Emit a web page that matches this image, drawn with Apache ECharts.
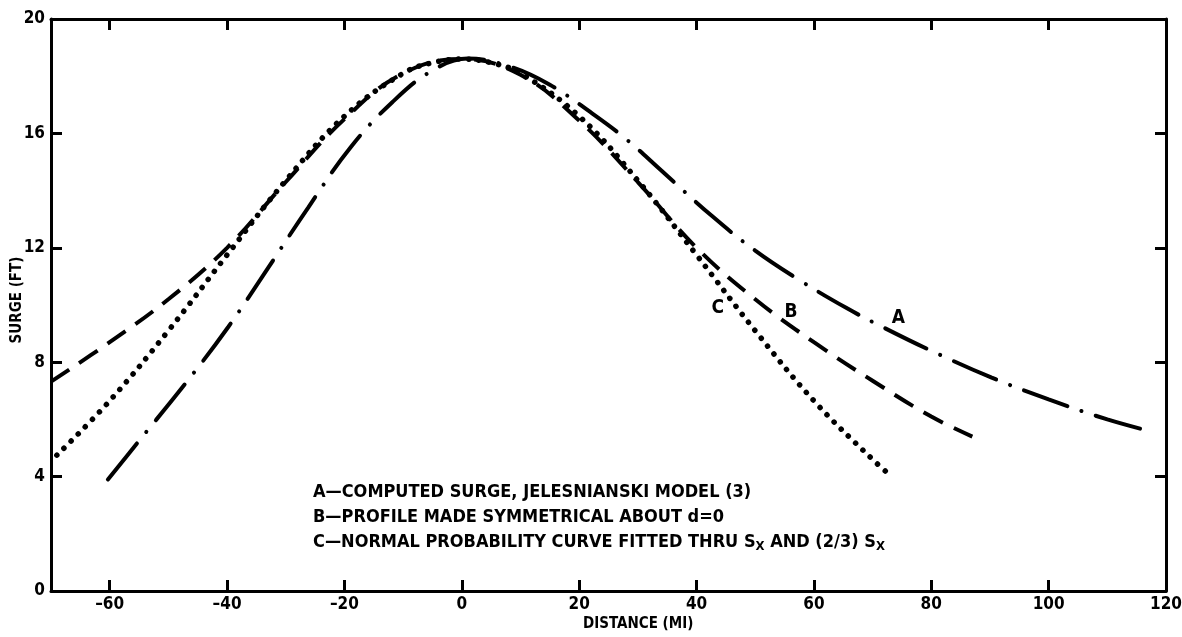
<!DOCTYPE html>
<html>
<head>
<meta charset="utf-8">
<script src="https://cdn.jsdelivr.net/npm/echarts@6/dist/echarts.min.js"></script>
<style>
  html, body { margin: 0; padding: 0; background: #fff; }
  #chart { width: 1182px; height: 637px; }
</style>
</head>
<body>
<div id="chart"></div>
<script>
  // surge profiles: distance (mi) -> surge (ft)
  const curveA_x = [-60.3, -55, -47, -39.8, -33, -26.2, -19, -11.8, -5, 1, 8, 15, 22.2, 28, 34, 42.7, 50, 57.3, 65.5, 72, 80, 90.3, 100, 110, 118];
  const curveA_y = [3.9, 5.25, 7.28, 9.23, 11.3, 13.4, 15.5, 17.1, 18.2, 18.62, 18.35, 17.7, 16.7, 15.8, 14.7, 13.1, 11.9, 10.9, 9.9, 9.2, 8.4, 7.46, 6.7, 6.0, 5.55];

  const curveB_x = [-70, -60, -50, -40, -30, -20, -10, 0, 10, 20, 30, 40, 50, 60, 70, 80, 87];
  const curveB_y = [7.32, 8.7, 10.2, 12.0, 14.3, 16.5, 18.1, 18.6, 18.05, 16.45, 14.3, 12.0, 10.2, 8.7, 7.35, 6.1, 5.4];

  const curveC_x = [-69, -60, -50, -40, -30, -20, -10, -5, 0, 5, 10, 20, 30, 40, 50, 60, 70, 73];
  const curveC_y = [4.75, 6.65, 9.1, 11.75, 14.35, 16.6, 18.1, 18.47, 18.6, 18.47, 18.1, 16.6, 14.35, 11.75, 9.1, 6.65, 4.6, 4.05];

  const xTicks = [-60, -40, -20, 0, 20, 40, 60, 80, 100, 120];

  // where the curve letters sit (data coords)
  const labelA = [74.4, 9.55];
  const labelB = [56.1, 9.76];
  const labelC = [43.6, 9.9];

  const FONT = "'Liberation Sans Narrow', 'DejaVu Sans Condensed', 'Roboto Condensed', sans-serif";

  function pairs(xs, ys) {
    return xs.map((x, i) => [x, ys[i]]);
  }

  function letter(txt, coord) {
    return {
      symbol: 'circle',
      symbolSize: 1,
      silent: true,
      itemStyle: { color: 'rgba(0,0,0,0)' },
      label: {
        show: true,
        position: 'inside',
        formatter: txt,
        color: '#000',
        fontFamily: FONT,
        fontWeight: 'bold',
        fontSize: 19
      },
      data: [{ coord: coord }]
    };
  }

  const chart = echarts.init(document.getElementById('chart'));

  const axisLine = { show: true, onZero: false, lineStyle: { color: '#000', width: 3 } };
  const tickStyle = { color: '#000', width: 3 };
  const labelStyle = {
    color: '#000',
    fontFamily: FONT,
    fontWeight: 'bold',
    fontSize: 17
  };

  chart.setOption({
    animation: false,
    backgroundColor: '#fff',
    grid: { left: 51, right: 16, top: 19, bottom: 46, outerBoundsMode: 'none' },
    xAxis: [{
      type: 'value',
      position: 'bottom',
      min: -70,
      max: 120,
      axisLine: axisLine,
      axisTick: { show: true, inside: true, length: 11, lineStyle: tickStyle, customValues: xTicks },
      axisLabel: Object.assign({
        margin: 5,
        customValues: xTicks,
        formatter: v => (v < 0 ? '\u2013' + Math.abs(v) : String(v))
      }, labelStyle),
      splitLine: { show: false }
    }, {
      type: 'value',
      position: 'top',
      min: -70,
      max: 120,
      axisLine: axisLine,
      axisTick: { show: true, inside: true, length: 11, lineStyle: tickStyle, customValues: xTicks },
      axisLabel: { show: false },
      splitLine: { show: false }
    }],
    yAxis: [{
      type: 'value',
      position: 'left',
      min: 0,
      max: 20,
      interval: 4,
      axisLine: axisLine,
      axisTick: { show: true, inside: true, length: 11, lineStyle: tickStyle },
      axisLabel: Object.assign({ margin: 6 }, labelStyle),
      splitLine: { show: false }
    }, {
      type: 'value',
      position: 'right',
      min: 0,
      max: 20,
      interval: 4,
      axisLine: axisLine,
      axisTick: { show: true, inside: true, length: 11, lineStyle: tickStyle },
      axisLabel: { show: false },
      splitLine: { show: false }
    }],
    series: [{
      name: 'A',
      type: 'line',
      data: pairs(curveA_x, curveA_y),
      smooth: 0.4,
      showSymbol: false,
      lineStyle: { color: '#000', width: 4, type: [46, 15, 0.1, 15], cap: 'round' },
      markPoint: letter('A', labelA)
    }, {
      name: 'B',
      type: 'line',
      data: pairs(curveB_x, curveB_y),
      smooth: 0.4,
      showSymbol: false,
      lineStyle: { color: '#000', width: 4, type: [22, 12], cap: 'butt' },
      markPoint: letter('B', labelB)
    }, {
      name: 'C',
      type: 'line',
      data: pairs(curveC_x, curveC_y),
      smooth: 0.4,
      showSymbol: false,
      lineStyle: { color: '#000', width: 5.5, type: [0.1, 10], cap: 'round' },
      markPoint: letter('C', labelC)
    }],
    graphic: [{
      type: 'text',
      x: 17,
      y: 300,
      rotation: Math.PI / 2,
      style: {
        text: 'SURGE (FT)',
        fill: '#000',
        font: "bold 15px " + FONT,
        textAlign: 'center',
        textVerticalAlign: 'middle'
      }
    }, {
      type: 'text',
      left: 583,
      top: 617,
      style: { text: 'DISTANCE (MI)', fill: '#000', font: "bold 15px " + FONT }
    }, {
      type: 'text',
      left: 313,
      top: 480,
      style: {
        text: 'A\u2014COMPUTED SURGE, JELESNIANSKI MODEL (3)\nB\u2014PROFILE MADE SYMMETRICAL ABOUT d=0\nC\u2014NORMAL PROBABILITY CURVE FITTED THRU S{s|X} AND (2/3) S{s|X}',
        fill: '#000',
        font: "bold 18px " + FONT,
        lineHeight: 25,
        rich: {
          s: { fontSize: 13, fontWeight: 'bold', fontFamily: FONT, padding: [8, 0, 0, 0] }
        }
      }
    }]
  });
</script>
</body>
</html>
